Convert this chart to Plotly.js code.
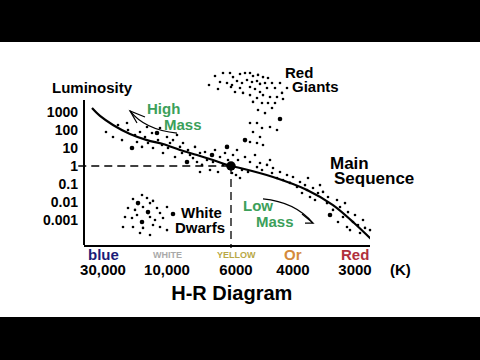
<!DOCTYPE html>
<html><head><meta charset="utf-8">
<script src="https://cdn.plot.ly/plotly-3.0.1.min.js"></script>
<style>html,body{margin:0;padding:0;background:#000;overflow:hidden;}#chart{width:480px;height:275px;margin-top:42px;background:#fff;}</style>
</head><body><div id="chart"></div>
<script>
// ---- axis categories (temperature positions) and luminosity ticks ----
const tempTickPos = [1.9, 8.3, 15.2, 20.9, 27.1];
const tempTickText = ['30,000', '10,000', '6000', '4000', '3000'];
const colorNames = ['blue', 'WHITE', 'YELLOW', 'Or', 'Red'];
const lumTicks = [1000, 100, 10, 1, 0.1, 0.01, 0.001];
const lumTickText = ['1000', '100', '10', '1', '0.1', '0.01', '0.001'];

// ---- main sequence curve (x = temperature position, y = log10 luminosity) ----
const seqX = [0.8, 1.6, 2.9, 4.6, 6.3, 7.9, 9.6, 11.3, 12.9, 14.7, 15.6, 18.9, 22.3, 24.9, 26.9, 28.8];
const seqY = [3.22, 2.78, 2.28, 1.78, 1.44, 1.22, 0.89, 0.61, 0.33, 0, -0.11, -0.61, -1.33, -2.17, -3.11, -4.11];

// ---- the Sun ----
const sunX = [14.7];
const sunY = [0];

// ---- red giants ----
const giantX = [13.1,13.9,14.6,14.9,15.6,16.1,16.6,16.9,17.4,17.9,18.4,13.6,14.3,14.8,15.3,15.8,16.3,16.8,17.3,17.6,18.1,18.8,19.6,12.5,13.4,14.7,15.1,15.6,16.6,17.1,17.6,18.3,19.1,19.8,20.3,17.9,18.6,19.3,19.9,17.3,16.6,15.9,16.9,17.8,18.4,19.1,17.4,18.1,18.8,16.6,17.3,17.8,18.6,19.3,16.9,16.6,17.6,17.3,17.9];
const giantY = [5.0,5.17,5.17,4.94,5.11,5.17,5.17,5.0,5.06,4.94,4.89,4.67,4.61,4.5,4.72,4.61,4.78,4.67,4.72,4.56,4.61,4.61,4.61,4.5,4.28,4.39,4.11,4.33,4.39,4.28,4.11,4.33,4.33,4.06,4.33,3.94,3.83,3.83,3.72,3.78,3.94,4.06,3.56,3.5,3.5,3.5,3.11,2.94,3.22,2.39,2.39,2.11,2.17,2.0,1.89,1.33,1.61,1.28,1.17];

// ---- main sequence stars ----
const msX = [2.2,2.9,3.4,3.8,4.3,4.4,5.1,5.3,5.6,5.8,6.1,6.3,6.4,6.8,6.9,7.4,7.6,7.8,7.9,8.3,8.4,8.6,8.9,9.1,9.3,9.6,9.8,9.9,10.4,10.6,10.9,11.1,11.3,11.6,11.8,12.1,12.3,12.6,12.9,13.1,13.4,13.6,13.9,14.1,14.4,14.8,14.9,15.3,11.6,15.4,15.8,15.2,15.6,16.4,16.1,16.6,17.1,17.3,17.6,17.8,18.3,18.6,18.8,18.9,19.3,19.6,19.9,20.3,20.6,20.9,21.3,21.6,21.8,22.1,22.3,22.4,22.6,22.9,23.1,23.4,23.6,23.9,24.3,24.4,24.9,25.3,25.4,25.6,25.9,26.1,26.3,26.4,26.6,26.9,27.1,27.4,27.6,27.9,28.1,28.6,28.8];
const msY = [1.89,1.61,2.28,1.44,2.39,2.0,1.72,1.33,1.89,1.06,1.61,2.17,1.28,1.83,1.0,1.44,2.11,1.17,0.72,1.61,1.0,1.28,1.44,0.5,1.72,1.06,0.72,1.28,0.89,0.61,0.44,1.06,0.22,0.72,0.06,0.78,0.33,-0.22,0.22,0.89,-0.33,0.5,0.06,0.72,0.33,-0.39,0.61,0.89,-0.33,0.33,-0.22,-0.5,-0.67,-0.33,0.5,0.22,0.61,-0.06,0.17,-0.22,0.06,0.33,-0.39,-0.11,-0.67,-0.33,-0.78,-0.5,-0.94,-0.61,-1.17,-0.89,-1.5,-1.06,-1.33,-0.67,-1.72,-1.22,-1.89,-1.5,-1.06,-1.44,-2.06,-1.72,-2.44,-1.89,-3.11,-2.28,-2.83,-2.06,-3.39,-2.56,-3.56,-3.11,-2.72,-3.28,-3.72,-3.0,-3.44,-3.56,-3.94];

// ---- white dwarfs ----
const dwarfX = [5.8,4.9,6.3,6.6,6.9,4.4,5.1,5.9,7.3,7.6,8.3,4.1,4.8,5.3,6.6,7.1,7.9,3.9,4.9,5.9,6.9,7.6,8.3,5.6,6.6];
const dwarfY = [-1.61,-1.83,-1.78,-2.06,-1.94,-2.33,-2.44,-2.28,-2.33,-2.61,-2.28,-2.83,-2.89,-2.72,-2.83,-3.0,-2.89,-3.39,-3.39,-3.44,-3.28,-3.39,-3.56,-3.72,-3.83];

// ---- brighter (larger) dots ----
const brightX = [19.6,16.1,4.8,7.3,10.3,12.8,14.3,24.6,5.4,6.4,5.8,8.9];
const brightY = [2.61,1.44,1.0,1.83,0.22,0.61,1.06,-2.72,-2.06,-2.56,-3.11,-2.67];

const F = 'Liberation Sans, Arial, sans-serif';
const xRange = [0, 28.6];
const yRange = [-4.389, 5.889];
const yAxisTop = 3.667;   // where the drawn luminosity axis ends

function dots(x, y, size) {
  return {type: 'scatter', mode: 'markers', x: x, y: y, cliponaxis: false, hoverinfo: 'skip',
          marker: {color: '#000', size: size, line: {width: 0}}, showlegend: false};
}

const traces = [
  dots(giantX, giantY, 2.6),
  dots(msX, msY, 2.6),
  dots(dwarfX, dwarfY, 2.6),
  dots(brightX, brightY, 4.6),
  {type: 'scatter', mode: 'lines', x: seqX, y: seqY, line: {color: '#000', width: 2.2, shape: 'spline', smoothing: 1}, cliponaxis: false, showlegend: false, hoverinfo: 'skip'},
  dots(sunX, sunY, 9.5)
];

const fx = v => (v - xRange[0]) / (xRange[1] - xRange[0]);
const fy = v => (v - yRange[0]) / (yRange[1] - yRange[0]);
const sunFx = fx(sunX[0]);
const sunFy = fy(sunY[0]);

const colorStyles = [
  {color: '#1c1c78', size: 15},
  {color: '#a9a9a9', size: 9},
  {color: '#b8a846', size: 9},
  {color: '#d48a3c', size: 15},
  {color: '#b0303c', size: 15}
];

function txt(text, x, y, size, color, xref, yref) {
  return {text: text, x: x, y: y, xref: xref || 'x', yref: yref || 'y', showarrow: false,
          font: {family: F, size: size, color: color || '#000', weight: 'bold'}, xanchor: 'center', yanchor: 'middle'};
}

const green = '#3ca05a';
const annotations = [
  txt('Luminosity', 0.031, 0.849, 15, '#000', 'paper', 'paper'),
  txt('High', 7.9, 3.17, 15, green),
  txt('Mass', 9.9, 2.33, 15, green),
  txt('Low', 17.4, -2.22, 15, green),
  txt('Mass', 19.1, -3.06, 15, green),
  txt('Red', 0.752, 0.930, 15, '#000', 'paper', 'paper'),
  txt('Giants', 0.811, 0.859, 15, '#000', 'paper', 'paper'),
  txt('Main', 0.927, 0.438, 17, '#000', 'paper', 'paper'),
  txt('Sequence', 1.014, 0.357, 17, '#000', 'paper', 'paper'),
  txt('White', 11.7, -2.61, 15),
  txt('Dwarfs', 11.6, -3.44, 15),
  txt('(K)', 1.105, -0.130, 15, '#000', 'paper', 'paper')
];
colorNames.forEach((n, i) => {
  annotations.push(txt(n, tempTickPos[i], -0.054, colorStyles[i].size, colorStyles[i].color, 'x', 'paper'));
});

const shapes = [
  // luminosity axis line
  {type: 'line', xref: 'paper', yref: 'paper', x0: 0, x1: 0, y0: 0, y1: fy(yAxisTop),
   line: {color: '#000', width: 2}},
  {type: 'line', xref: 'paper', yref: 'paper', x0: -0.02, x1: sunFx, y0: sunFy, y1: sunFy,
   line: {color: '#000', width: 1.3, dash: '8px,5px'}},
  {type: 'line', xref: 'paper', yref: 'paper', x0: sunFx, x1: sunFx, y0: sunFy, y1: -0.016,
   line: {color: '#000', width: 1.3, dash: '8px,5px'}},
  // High Mass arrow
  {type: 'path', xref: 'x', yref: 'y', path: 'M 9.3 1.83 Q 6.1 2.0 4.6 3.06', line: {color: '#000', width: 1.2}},
  {type: 'path', xref: 'x', yref: 'y', path: 'M 6.1 2.72 L 4.6 3.06 L 5.3 2.39', line: {color: '#000', width: 1.2}},
  // Low Mass arrow
  {type: 'path', xref: 'x', yref: 'y', path: 'M 17.9 -1.83 Q 21.1 -2.0 22.9 -3.17', line: {color: '#000', width: 1.2}},
  {type: 'path', xref: 'x', yref: 'y', path: 'M 21.8 -2.67 L 22.9 -3.17 L 22.1 -3.17', line: {color: '#000', width: 1.2}}
];

const layout = {
  width: 480, height: 275,
  margin: {l: 84, r: 110, t: 18, b: 72},
  paper_bgcolor: '#fff', plot_bgcolor: '#fff',
  font: {family: F, color: '#000'},
  title: {text: 'H-R Diagram', font: {family: F, size: 20, weight: 'bold', color: '#000'},
          x: 0.483, xref: 'container', y: 0.087, yref: 'container', xanchor: 'center', yanchor: 'middle'},
  xaxis: {range: xRange, showgrid: false, zeroline: false, showline: true, linecolor: '#000', linewidth: 2,
          tickvals: tempTickPos, ticktext: tempTickText, ticks: '', ticklabelstandoff: 10,
          tickfont: {family: F, size: 15, weight: 'bold', color: '#000'}, fixedrange: true},
  yaxis: {range: yRange, showgrid: false, zeroline: false, showline: false,
          tickvals: lumTicks.map(Math.log10), ticktext: lumTickText, ticks: '', ticklabelstandoff: 5,
          tickfont: {family: F, size: 14, weight: 'bold', color: '#000'}, fixedrange: true},
  annotations: annotations,
  shapes: shapes,
  showlegend: false
};

Plotly.newPlot('chart', traces, layout, {displayModeBar: false, staticPlot: true});
</script></body></html>
